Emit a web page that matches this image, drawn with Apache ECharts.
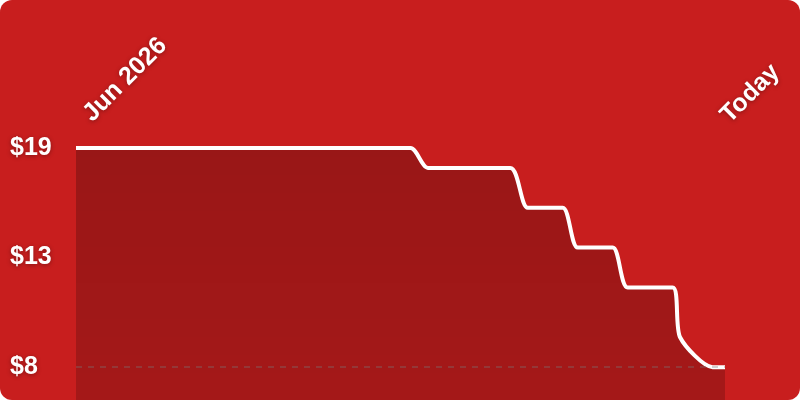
<!DOCTYPE html>
<html>
<head>
<meta charset="utf-8">
<script src="https://cdn.jsdelivr.net/npm/echarts@6/dist/echarts.min.js"></script>
<style>
  html, body { margin: 0; padding: 0; background: #fff; }
  #chart { width: 800px; height: 400px; border-radius: 12px; overflow: hidden; background: #c81e1e; }
</style>
</head>
<body>
<div id="chart"></div>
<script>
// price history: days since the start, and the price on that day
var days   = [0, 67, 70.5, 87, 90.5, 97.5, 100.5, 107.5, 110.5, 119.5, 121, 127.5, 130];
var prices = [19, 19, 18,  18,  16,   16,   14,    14,    12,    12,    9.5, 8,     8];

var xTickDays   = [0, 130];
var xTickLabels = ['Jun 2026', 'Today'];
var yTickValues = [19, 13.5, 8];
var yTickLabels = ['$19', '$13', '$8'];

var high = Math.max.apply(null, prices);
var low = Math.min.apply(null, prices);

var points = [];
for (let i = 0; i < days.length; i++) {
  points.push([days[i], prices[i]]);
}

var labelFont = {
  color: '#fff',
  fontWeight: 'bold',
  fontFamily: '"Helvetica Neue", Helvetica, Arial, "Liberation Sans", sans-serif',
  textShadowColor: 'rgba(0,0,0,0.35)',
  textShadowBlur: 4,
  textShadowOffsetY: 1
};

let myChart = echarts.init(document.getElementById('chart'));
var option = {
  animation: false,
  grid: { left: 76, right: 75, top: 148, bottom: 0 },
  xAxis: {
    type: 'value',
    position: 'top',
    min: xTickDays[0],
    max: xTickDays[xTickDays.length - 1],
    axisLine: { show: false },
    axisTick: { show: false },
    splitLine: { show: false },
    axisLabel: Object.assign({
      customValues: xTickDays,
      rotate: -45,
      margin: 29,
      fontSize: 25,
      formatter: function (v) {
        var i = xTickDays.indexOf(v);
        return (i === 0 ? '{first|' : '{last|') + xTickLabels[i] + '}';
      },
      rich: {
        first: Object.assign({ fontSize: 25, padding: [14, 0, 0, 9] }, labelFont),
        last: Object.assign({ fontSize: 25 }, labelFont)
      }
    }, labelFont)
  },
  yAxis: {
    type: 'value',
    min: low - (high - low) * 0.15,
    max: high,
    axisLine: { show: false },
    axisTick: { show: false },
    splitLine: { show: false },
    axisLabel: Object.assign({
      customValues: yTickValues,
      align: 'left',
      margin: 66,
      fontSize: 25,
      formatter: function (v) { return yTickLabels[yTickValues.indexOf(v)]; }
    }, labelFont)
  },
  series: [
    {
      type: 'line',
      data: points,
      smooth: 0.25,
      symbol: 'none',
      clip: false,
      lineStyle: { color: '#fff', width: 4 },
      areaStyle: {
        opacity: 1,
        color: new echarts.graphic.LinearGradient(0, 0, 0, 1, [
          { offset: 0, color: 'rgba(0,0,0,0.23)' },
          { offset: 1, color: 'rgba(0,0,0,0.175)' }
        ])
      },
      markLine: {
        silent: true,
        symbol: ['none', 'none'],
        label: { show: false },
        lineStyle: { color: 'rgba(120,120,120,0.45)', type: [6, 6], width: 1.5 },
        data: [{ yAxis: low }]
      }
    }
  ]
};
myChart.setOption(option);
</script>
</body>
</html>
